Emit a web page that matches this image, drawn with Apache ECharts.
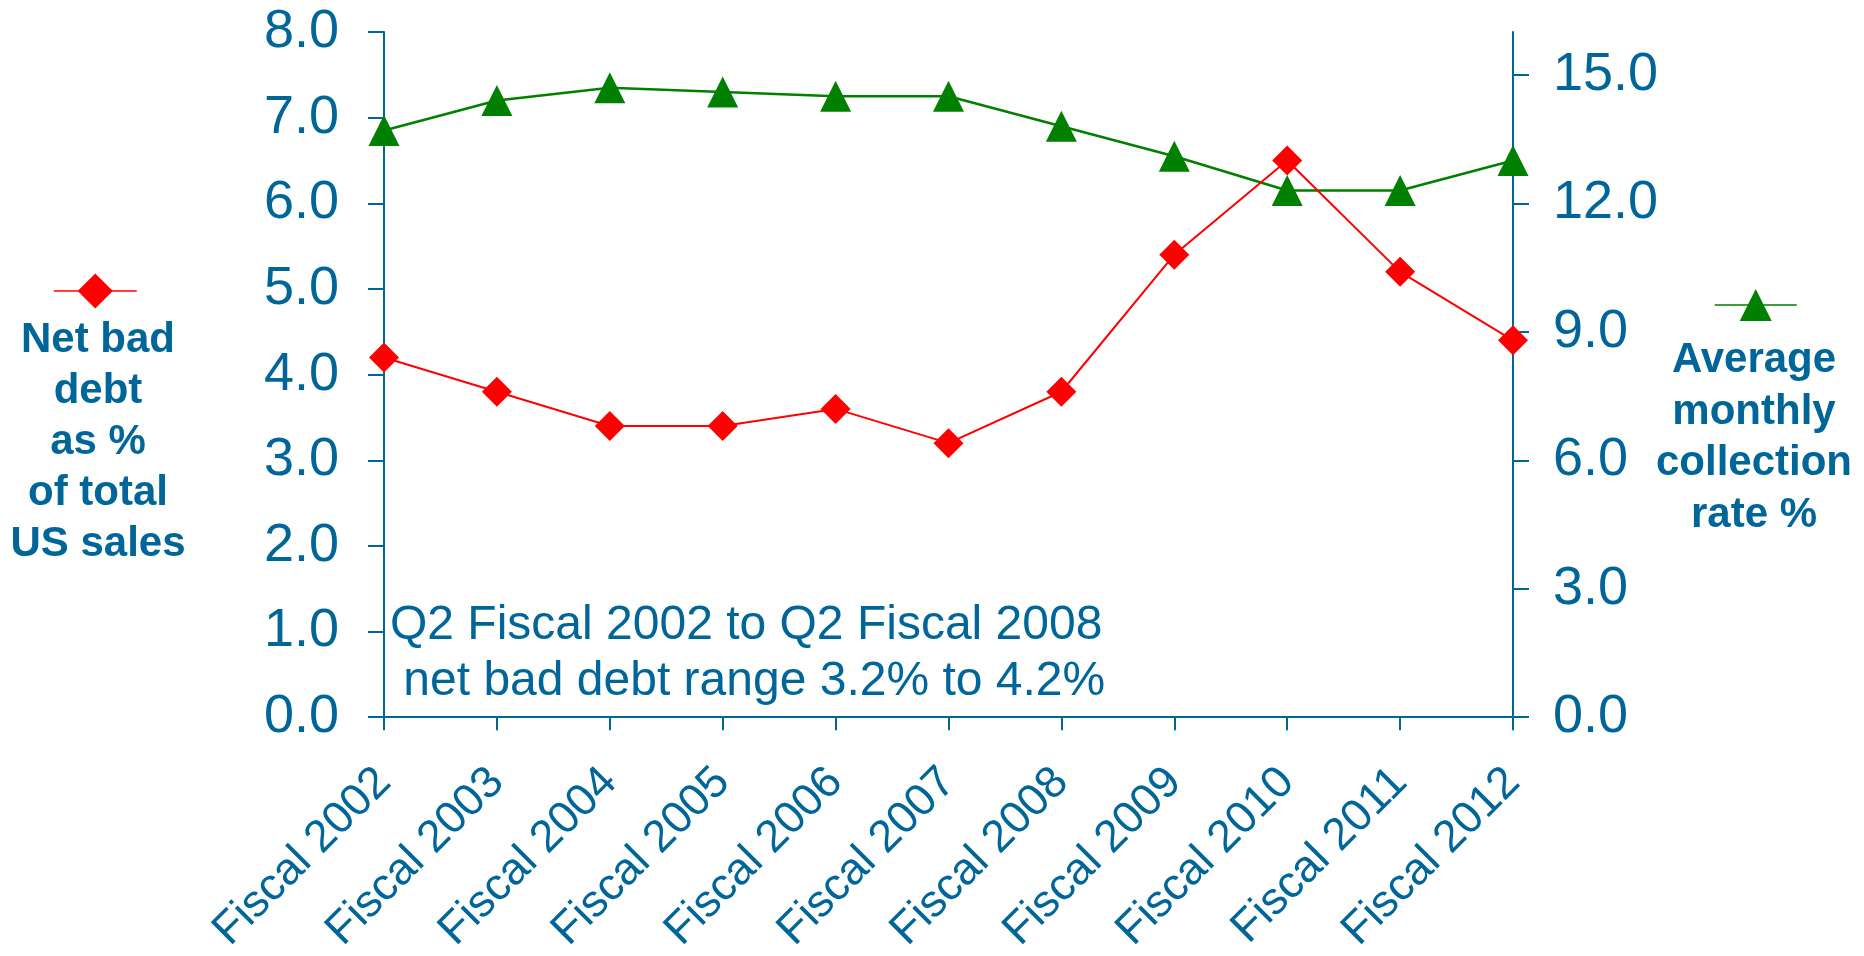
<!DOCTYPE html>
<html>
<head>
<meta charset="utf-8">
<script src="https://cdn.jsdelivr.net/npm/echarts@6/dist/echarts.min.js"></script>
<style>
  html, body { margin: 0; padding: 0; background: #ffffff; }
  #chart { width: 1864px; height: 956px; }
</style>
</head>
<body>
<div id="chart"></div>
<script>
// ---- data ----
const categories = ['Fiscal 2002', 'Fiscal 2003', 'Fiscal 2004', 'Fiscal 2005', 'Fiscal 2006',
  'Fiscal 2007', 'Fiscal 2008', 'Fiscal 2009', 'Fiscal 2010', 'Fiscal 2011', 'Fiscal 2012'];
const netBadDebt = [4.2, 3.8, 3.4, 3.4, 3.6, 3.2, 3.8, 5.4, 6.5, 5.2, 4.4];
const collectionRate = [13.7, 14.4, 14.7, 14.6, 14.5, 14.5, 13.8, 13.1, 12.3, 12.3, 13.0];
const leftAxisTicks = [0, 1, 2, 3, 4, 5, 6, 7, 8];
const rightAxisTicks = [0, 3, 6, 9, 12, 15];
const seriesNames = ['Net bad debt as % of total US sales', 'Average monthly collection rate %'];
const leftLegendLines = ['Net bad', 'debt', 'as %', 'of total', 'US sales'];
const rightLegendLines = ['Average', 'monthly', 'collection', 'rate %'];
const noteLines = ['Q2 Fiscal 2002 to Q2 Fiscal 2008', ' net bad debt range 3.2% to 4.2%'];

// ---- styles ----
const BLUE = '#006699';
const RED = '#ff0000';
const GREEN = '#008000';
const FONT = '"Liberation Sans", Arial, Helvetica, sans-serif';

const chart = echarts.init(document.getElementById('chart'), null, { renderer: 'canvas' });

const option = {
  animation: false,
  backgroundColor: '#ffffff',
  grid: { left: 384, right: 351, top: 32, bottom: 234, containLabel: false },
  xAxis: {
    type: 'category',
    data: categories,
    boundaryGap: false,
    axisLine: { show: true, onZero: false, lineStyle: { color: BLUE, width: 2 } },
    axisTick: { show: true, length: 13, lineStyle: { color: BLUE, width: 2 } },
    axisLabel: { interval: 0, rotate: 45, margin: 58, color: BLUE, fontSize: 45, fontFamily: FONT },
    splitLine: { show: false }
  },
  yAxis: [
    {
      type: 'value', position: 'left', min: 0, max: 8, interval: 1,
      axisLine: { show: true, lineStyle: { color: BLUE, width: 2 } },
      axisTick: { show: true, length: 16, lineStyle: { color: BLUE, width: 2 }, customValues: leftAxisTicks },
      axisLabel: { color: BLUE, fontSize: 54, fontFamily: FONT, margin: 45, customValues: leftAxisTicks,
        formatter: v => Number(v).toFixed(1) },
      splitLine: { show: false }
    },
    {
      type: 'value', position: 'right', min: 0, max: 16, interval: 3,
      axisLine: { show: true, lineStyle: { color: BLUE, width: 2 } },
      axisTick: { show: true, length: 16, lineStyle: { color: BLUE, width: 2 }, customValues: rightAxisTicks },
      axisLabel: { color: BLUE, fontSize: 54, fontFamily: FONT, margin: 40, customValues: rightAxisTicks,
        formatter: v => Number(v).toFixed(1) },
      splitLine: { show: false }
    }
  ],
  legend: [
    {
      data: [seriesNames[0]], left: 53, top: 269, padding: 0, itemWidth: 83, itemHeight: 44,
      selectedMode: false, formatter: () => '', textStyle: { fontSize: 1 },
      lineStyle: { width: 1.5 }
    },
    {
      data: [seriesNames[1]], left: 1714, top: 285, padding: 0, itemWidth: 82, itemHeight: 40,
      selectedMode: false, formatter: () => '', textStyle: { fontSize: 1 },
      lineStyle: { width: 1.5 }
    }
  ],
  series: [
    {
      name: seriesNames[1], type: 'line', yAxisIndex: 1, data: collectionRate,
      symbol: 'triangle', symbolSize: 31, z: 2,
      itemStyle: { color: GREEN }, lineStyle: { color: GREEN, width: 2.5 }
    },
    {
      name: seriesNames[0], type: 'line', yAxisIndex: 0, data: netBadDebt,
      symbol: 'diamond', symbolSize: 30, z: 3,
      itemStyle: { color: RED }, lineStyle: { color: RED, width: 2 }
    }
  ],
  graphic: [
    {
      type: 'text', x: 98, y: 315, silent: true,
      style: {
        text: leftLegendLines.join('\n'), fill: BLUE, font: 'bold 42px ' + FONT,
        textAlign: 'center', align: 'center', textVerticalAlign: 'top', verticalAlign: 'top', lineHeight: 51
      }
    },
    {
      type: 'text', x: 1754, y: 335, silent: true,
      style: {
        text: rightLegendLines.join('\n'), fill: BLUE, font: 'bold 42px ' + FONT,
        textAlign: 'center', align: 'center', textVerticalAlign: 'top', verticalAlign: 'top', lineHeight: 51.5
      }
    },
    {
      type: 'text', x: 390, y: 598, silent: true,
      style: {
        text: noteLines.join('\n'), fill: BLUE, font: '48px ' + FONT,
        textAlign: 'left', align: 'left', textVerticalAlign: 'top', verticalAlign: 'top', lineHeight: 56
      }
    }
  ]
};

chart.setOption(option);
</script>
</body>
</html>
